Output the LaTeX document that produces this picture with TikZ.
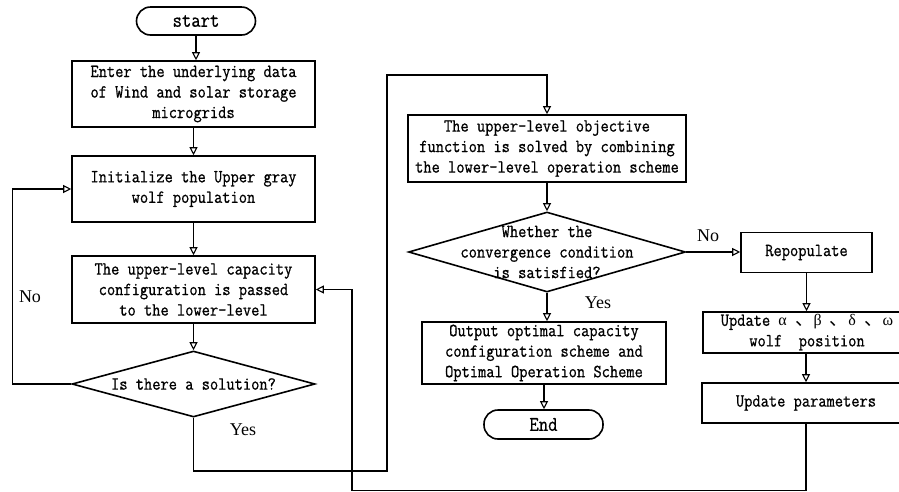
\documentclass[tikz,border=0pt]{standalone}
\usepackage{fontspec}
\setmonofont[FakeStretch=0.865,FakeBold=0.8]{Latin Modern Mono}
\newfontfamily\labelfont{Liberation Serif}
\newfontfamily\cjkfont{Noto Sans CJK SC}
\usetikzlibrary{arrows.meta,shapes.geometric}

% Greek letters of the wolf hierarchy, a little smaller than the body text
\newcommand\wolfletter[1]{{\labelfont\fontsize{16pt}{20.5pt}\selectfont #1}}

\tikzset{
  body/.style={font=\ttfamily\fontsize{18.5pt}{20.5pt}\selectfont, align=center},
  proc/.style={body, draw, line width=1.6pt, inner sep=1pt},
  term/.style={draw, line width=1.6pt, rounded corners=14pt, inner sep=0pt,
    font=\ttfamily\fontsize{21pt}{22pt}\selectfont},
  decision/.style={draw, diamond, line width=1.6pt, inner sep=0pt},
  dtext/.style={body, inner sep=0pt},
  flow/.style={line width=1.3pt, -{Triangle[open, length=8pt, width=8pt, line width=1.1pt]}},
  answer/.style={font=\labelfont\fontsize{18pt}{20pt}\selectfont, inner sep=0pt},
}

\begin{document}
\begin{tikzpicture}[x=1pt, y=-1pt]
  \useasboundingbox[fill=white] (0,0) rectangle (899,491);

  % left column: upper-level set-up
  \node[term, minimum width=119pt, minimum height=28pt] (start) at (196,21) {start};
  \node[proc, minimum width=243pt, minimum height=66pt] (input) at (193.5,94)
    {Enter the underlying data\\of Wind and solar storage\\microgrids};
  \node[proc, minimum width=243pt, minimum height=66pt] (init) at (193.5,189)
    {Initialize the Upper gray\\wolf population};
  \node[proc, minimum width=243pt, minimum height=67pt] (pass) at (193.5,289.5)
    {The upper-level capacity\\configuration is passed\\to the lower-level};
  \node[decision, minimum width=243pt, minimum height=66pt] (sol) at (193.5,384) {};
  \node[dtext] (solt) at (sol.center) {Is there a solution?};

  % middle column: evaluation and output
  \node[proc, minimum width=278pt, minimum height=67pt] (obj) at (547,148.5)
    {The upper-level objective\\function is solved by combining\\the lower-level operation scheme};
  \node[decision, minimum width=277pt, minimum height=80pt] (conv) at (547,252) {};
  \node[dtext] (convt) at (conv.center) {Whether the\\convergence condition\\is satisfied?};
  \node[proc, minimum width=244pt, minimum height=62pt] (out) at (544,353)
    {Output optimal capacity\\configuration scheme and\\Optimal Operation Scheme};
  \node[term, minimum width=119pt, minimum height=29pt] (end) at (543.5,424.5) {End};

  % right column: grey wolf update
  \node[proc, minimum width=131pt, minimum height=40pt] (repop) at (806.5,252.5) {Repopulate};
  \node[proc, minimum width=208pt, minimum height=41pt] (upd) at (807,332.5)
    {Update \wolfletter{α} {\cjkfont 、}\wolfletter{β} {\cjkfont 、}\wolfletter{δ} {\cjkfont 、}\wolfletter{ω}\\wolf\ \ position};
  \node[proc, minimum width=208pt, minimum height=40pt] (par) at (806,403) {Update parameters};

  % bend points of the long connectors
  \coordinate (yesbend) at (387,471);
  \coordinate (topbend) at (387,75);
  \coordinate (retleft) at (352,490.3);

  % straight flow
  \draw[flow] (start.south) -- (start.south |- input.north);
  \draw[flow] (input) -- (init);
  \draw[flow] (init) -- (pass);
  \draw[flow] (pass) -- (sol);
  \draw[flow] (obj) -- (conv);
  \draw[flow] (conv.south) -- (conv.south |- out.north);
  \draw[flow] (out.south) -- (out.south |- end.north);
  \draw[flow] (conv.east) -- (conv.east -| repop.west);
  \draw[flow] (repop.south) -- (repop.south |- upd.north);
  \draw[flow] (upd.south -| par.north) -- (par.north);

  % loops
  \draw[flow] (sol.west) -- ++(-59,0) |- (init.west);
  \draw[flow] (sol.south) |- (yesbend) -- (topbend) -| (obj.north);
  \draw[flow] (par.south) |- (retleft) |- (pass.east);

  % branch labels
  \node[answer] (no1) at (30,297) {No};
  \node[answer] (yes1) at (243,430) {Yes};
  \node[answer] (yes2) at (598,303) {Yes};
  \node[answer] (no2) at (708,236) {No};
\end{tikzpicture}
\end{document}
